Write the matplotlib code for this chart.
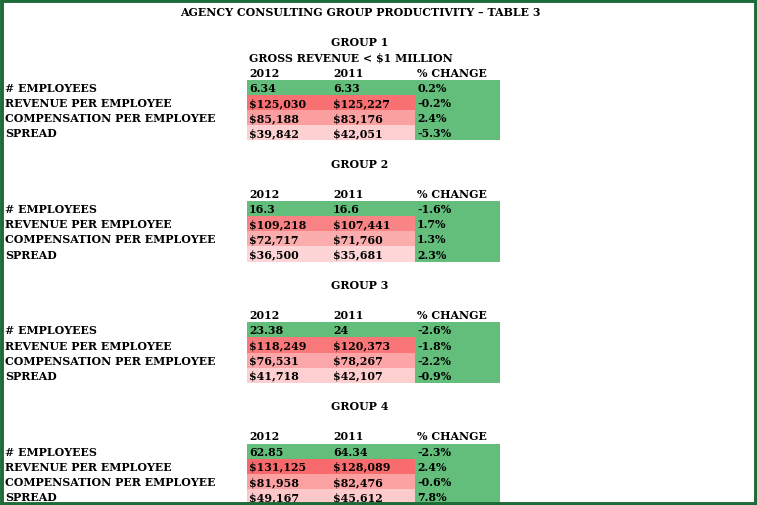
import matplotlib.pyplot as plt
from matplotlib.patches import Rectangle
import numpy as np

# table data
title = "AGENCY CONSULTING GROUP PRODUCTIVITY \u2013 TABLE 3"
groups = ["GROUP 1", "GROUP 2", "GROUP 3", "GROUP 4"]
subtitles = ["GROSS REVENUE < $1 MILLION", "", "", ""]
columns = ["2012", "2011", "% CHANGE"]
metrics = ["# EMPLOYEES", "REVENUE PER EMPLOYEE", "COMPENSATION PER EMPLOYEE", "SPREAD"]

employees_2012 = [6.34, 16.3, 23.38, 62.85]
employees_2011 = [6.33, 16.6, 24, 64.34]
revenue_2012 = [125030, 109218, 118249, 131125]
revenue_2011 = [125227, 107441, 120373, 128089]
comp_2012 = [85188, 72717, 76531, 81958]
comp_2011 = [83176, 71760, 78267, 82476]
spread_2012 = [39842, 36500, 41718, 49167]
spread_2011 = [42051, 35681, 42107, 45612]
pct_change = [[0.2, -0.2, 2.4, -5.3],
              [-1.6, 1.7, 1.3, 2.3],
              [-2.6, -1.8, -2.2, -0.9],
              [-2.3, 2.4, -0.6, 7.8]]

# layout (pixels)
W, H = 757, 506
row_h = 15.16
row0 = 12.5
group_rows = [2, 10, 18, 26]
label_x = 5
col_left = [247, 331, 415]
col_right = 500
group_cx = 360

green = "#63BE7B"
red = np.array([0xF8, 0x69, 0x6B]) / 255
border = "#1d6b38"
font = dict(family="DejaVu Serif", fontweight="bold", fontsize=7.9, color="black")

fig = plt.figure(figsize=(W / 100, H / 100), dpi=100)
ax = fig.add_axes([0, 0, 1, 1])
ax.set_xlim(0, W)
ax.set_ylim(H, 0)
ax.axis("off")


def ry(r):
    return row0 + row_h * r


all_dollars = revenue_2012 + revenue_2011 + comp_2012 + comp_2011 + spread_2012 + spread_2011
vmax = max(all_dollars)


def red_scale(v):
    t = v / vmax
    return tuple((1 - t) * np.ones(3) + t * red)


ax.text(group_cx, ry(0), title, ha="center", va="center", parse_math=False, **font)

for g in range(4):
    r = group_rows[g]
    ax.text(group_cx, ry(r), groups[g], ha="center", va="center", **font)
    if subtitles[g]:
        ax.text(col_left[0] + 2, ry(r + 1), subtitles[g], ha="left", va="center",
                parse_math=False, **font)
    for c, name in enumerate(columns):
        ax.text(col_left[c] + 2, ry(r + 2), name, ha="left", va="center", **font)

    rows = [
        (f"{employees_2012[g]:g}", f"{employees_2011[g]:g}", None, None),
        (f"${revenue_2012[g]:,}", f"${revenue_2011[g]:,}", revenue_2012[g], revenue_2011[g]),
        (f"${comp_2012[g]:,}", f"${comp_2011[g]:,}", comp_2012[g], comp_2011[g]),
        (f"${spread_2012[g]:,}", f"${spread_2011[g]:,}", spread_2012[g], spread_2011[g]),
    ]
    for i, (s12, s11, v12, v11) in enumerate(rows):
        y = ry(r + 3 + i)
        top = y - row_h / 2
        c12 = green if v12 is None else red_scale(v12)
        c11 = green if v11 is None else red_scale(v11)
        ax.add_patch(Rectangle((col_left[0], top), col_left[1] - col_left[0], row_h,
                               facecolor=c12, edgecolor="none"))
        ax.add_patch(Rectangle((col_left[1], top), col_left[2] - col_left[1], row_h,
                               facecolor=c11, edgecolor="none"))
        ax.add_patch(Rectangle((col_left[2], top), col_right - col_left[2], row_h,
                               facecolor=green, edgecolor="none"))
        ax.text(label_x, y, metrics[i], ha="left", va="center", **font)
        ax.text(col_left[0] + 2, y, s12, ha="left", va="center", parse_math=False, **font)
        ax.text(col_left[1] + 2, y, s11, ha="left", va="center", parse_math=False, **font)
        ax.text(col_left[2] + 2, y, f"{pct_change[g][i]:.1f}%", ha="left", va="center", **font)

# frame
ax.add_patch(Rectangle((1.5, 1.5), W - 3, H - 3, facecolor="none",
                       edgecolor=border, linewidth=2.8, zorder=5))

fig.savefig("out.png", dpi=100)
